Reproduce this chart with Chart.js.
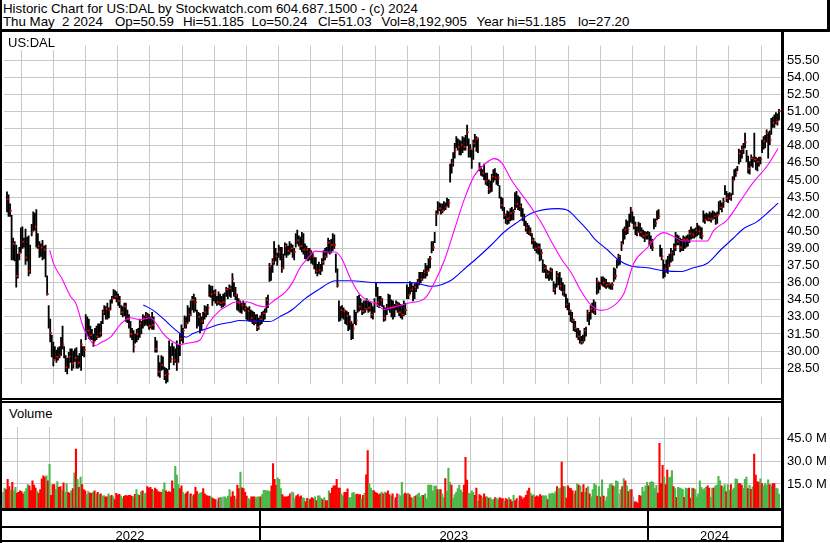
<!DOCTYPE html>
<html><head><meta charset="utf-8">
<script src="https://cdn.jsdelivr.net/npm/chart.js@4.4.1/dist/chart.umd.min.js"></script>
<style>
html,body{margin:0;padding:0;background:#fff;}
body{width:830px;height:543px;position:relative;overflow:hidden;font-family:"Liberation Sans",Arial,sans-serif;color:#000;}
.t{position:absolute;white-space:pre;font-size:13.3px;line-height:13.3px;}
.lbl{position:absolute;white-space:pre;font-size:13px;line-height:13px;background:#fff;}
.k{position:absolute;background:#000;}
canvas{position:absolute;left:0;}
</style>
</head><body>
<canvas id="pc" width="830" height="366" style="top:32px;width:830px;height:366px"></canvas>
<canvas id="vc" width="830" height="140" style="top:403px;width:830px;height:140px"></canvas>

<div class="t" style="left:3px;top:2px">Historic Chart for US:DAL by Stockwatch.com 604.687.1500 - (c) 2024</div>
<div class="t" style="left:3px;top:15.4px">Thu May  2 2024</div>
<div class="t" style="left:115px;top:15.4px">Op=50.59</div>
<div class="t" style="left:183px;top:15.4px">Hi=51.185</div>
<div class="t" style="left:251.5px;top:15.4px">Lo=50.24</div>
<div class="t" style="left:318px;top:15.4px">Cl=51.03</div>
<div class="t" style="left:381.5px;top:15.4px">Vol=8,192,905</div>
<div class="t" style="left:476.5px;top:15.4px">Year hi=51.185</div>
<div class="t" style="left:578px;top:15.4px">lo=27.20</div>

<div class="lbl" style="left:2px;top:32px;width:52px;height:18px;"><span style="position:absolute;left:6px;top:4px">US:DAL</span></div>
<div class="lbl" style="left:2px;top:403px;width:56px;height:24px;"><span style="position:absolute;left:7px;top:4px">Volume</span></div>

<div class="k" style="left:0;top:0;width:2px;height:543px"></div>
<div class="k" style="left:827px;top:0;width:3px;height:32px"></div>
<div class="k" style="left:0;top:29px;width:830px;height:3px"></div>
<div class="k" style="left:781px;top:32px;width:3px;height:510px"></div>
<div class="k" style="left:0;top:398px;width:784px;height:2px"></div>
<div class="k" style="left:0;top:401px;width:784px;height:2px"></div>
<div class="k" style="left:0;top:508px;width:784px;height:3px"></div>
<div class="k" style="left:0;top:526px;width:784px;height:2px"></div>
<div class="k" style="left:0;top:540px;width:784px;height:2px"></div>

<script>
// ---------------- DATA ----------------
const highs = [
43.95,43.7,42.9,41.9,39.9,39.6,39.3,38.5,39.1,40.8,
40.9,39.9,40.7,40.0,40.1,39.3,41.1,42.2,42.1,42.4,
40.3,39.6,39.4,39.7,39.2,39.3,36.6,34.0,32.8,31.4,
30.8,30.4,30.1,30.3,30.4,31.2,32.2,30.4,29.6,29.4,
29.9,30.2,30.2,30.0,30.2,30.3,29.6,29.8,31.0,30.4,
30.4,33.2,33.0,32.8,32.2,31.9,31.5,32.0,32.2,32.4,
32.4,32.6,33.6,34.0,33.9,34.2,33.8,34.5,34.8,35.4,
35.3,35.2,35.0,34.8,34.0,33.9,34.2,34.2,33.6,33.2,
32.6,32.0,31.8,31.5,31.9,32.0,32.8,32.6,33.2,33.1,
33.4,33.3,33.2,33.0,33.4,33.0,31.2,30.9,29.6,29.0,
29.6,29.5,28.6,28.5,28.4,30.9,30.4,30.7,30.4,30.2,
30.9,30.5,31.5,32.3,32.0,33.1,33.0,34.0,33.8,34.4,
34.8,35.0,34.7,33.6,33.4,33.3,33.0,33.4,34.0,33.9,
34.1,35.8,35.7,35.7,35.3,35.4,34.8,35.2,35.0,34.8,
35.0,35.1,35.6,35.5,35.8,35.7,36.8,36.0,35.6,35.0,
34.6,34.4,34.2,34.4,34.2,33.9,33.8,33.9,33.6,33.5,
33.4,33.2,33.2,32.9,33.1,33.4,33.5,33.7,34.7,34.9,
37.7,37.5,38.1,39.6,39.0,38.6,39.3,39.1,39.1,38.5,
39.5,39.4,39.2,39.6,39.4,39.3,39.0,40.3,40.6,40.1,
40.0,40.4,40.3,39.4,39.2,39.0,39.0,38.8,38.6,38.2,
38.2,37.6,37.8,37.6,38.1,38.8,39.0,39.1,39.9,39.7,
39.8,40.3,40.2,38.5,37.2,34.4,33.9,34.0,33.8,33.6,
33.5,33.4,33.1,32.6,32.4,33.6,33.4,34.8,34.9,34.6,
34.2,34.4,34.4,34.6,34.4,34.3,34.2,33.9,34.6,36.0,
35.6,34.8,34.8,34.6,34.0,33.8,34.1,35.0,34.9,34.5,
34.4,34.1,34.4,34.3,34.2,34.1,34.0,34.4,34.2,35.8,
35.6,36.1,36.0,35.7,35.9,36.0,36.3,36.9,36.9,36.9,
37.1,37.7,37.5,38.1,38.3,39.6,39.6,40.4,42.3,43.1,
43.0,42.9,42.9,43.1,43.0,43.4,43.3,46.4,46.8,47.4,
48.2,48.8,48.6,48.5,48.4,48.8,48.7,48.9,49.8,48.6,
48.1,47.6,48.5,49.0,48.8,48.7,46.5,46.2,45.9,46.4,
45.6,45.6,45.0,44.9,45.5,45.9,46.0,45.6,45.5,44.5,
43.5,43.4,42.6,42.0,42.3,42.2,42.5,42.6,42.4,43.9,
44.0,43.6,43.5,42.9,42.5,42.0,41.4,41.2,41.0,40.8,
40.3,39.9,39.6,39.5,39.4,39.4,38.9,38.0,37.6,37.5,
37.1,37.0,37.3,37.2,36.1,35.9,37.0,36.8,36.9,36.4,
36.0,35.8,35.0,34.6,34.2,33.6,33.4,32.8,32.6,32.0,
32.0,31.8,31.3,31.4,32.0,32.1,33.6,33.4,34.0,34.2,
34.5,34.3,36.4,36.1,36.0,36.5,36.5,36.4,36.3,36.0,
36.0,35.9,36.0,37.3,37.2,38.0,38.5,38.4,39.6,40.7,
40.9,41.5,41.4,42.0,42.6,42.2,41.8,41.3,40.9,41.3,
41.2,40.8,40.6,40.5,40.4,40.5,40.4,40.1,39.8,41.6,
41.6,42.3,42.4,39.3,39.0,38.0,37.6,38.0,38.3,38.5,
39.0,38.8,39.4,40.4,40.2,40.1,39.9,39.8,40.1,40.0,
40.1,40.2,40.6,40.9,40.7,40.7,40.8,41.2,41.0,40.9,
40.8,42.3,42.0,42.1,42.0,42.2,42.1,42.3,42.2,42.1,
42.2,43.1,43.2,43.0,43.4,44.5,44.0,43.8,43.9,43.8,
45.3,45.9,46.0,46.2,47.7,47.6,48.0,48.2,49.1,47.6,
47.1,46.6,47.2,47.0,49.1,47.0,46.9,47.0,47.0,48.5,
48.8,48.9,49.4,49.2,49.3,50.4,50.5,50.7,50.9,50.8,51.185];

const lows = [
42.2,41.8,41.8,38.0,38.0,37.9,35.6,36.4,38.0,38.6,
39.0,39.1,37.6,37.9,36.6,36.8,40.1,40.5,40.6,39.1,
39.0,38.2,38.3,38.0,38.1,36.5,34.9,32.0,30.8,29.5,
28.7,29.3,29.0,29.2,29.4,29.6,30.2,29.4,28.2,28.0,
28.5,29.0,28.3,28.5,29.1,28.5,28.5,28.6,28.3,29.6,
29.5,31.0,31.4,31.1,31.0,31.0,30.4,30.9,31.0,31.2,
31.2,31.3,32.4,33.2,32.8,32.8,32.9,33.6,34.2,34.6,
34.6,34.3,34.0,33.8,33.2,33.0,33.1,32.6,32.5,32.0,
31.2,31.0,29.9,30.7,30.8,31.0,31.2,31.5,32.0,32.2,
32.3,32.2,31.9,32.0,31.9,31.9,29.9,29.9,27.8,27.7,
28.3,28.4,27.5,27.2,27.3,28.4,29.0,29.6,28.8,29.0,
28.3,29.0,29.6,30.9,30.7,32.0,32.0,32.4,32.6,33.1,
33.6,33.4,33.5,32.0,32.2,31.6,31.8,32.4,32.8,33.0,
33.2,34.8,34.7,34.0,34.4,34.2,34.0,34.1,34.0,33.8,
33.9,34.0,34.8,34.6,34.8,34.7,35.2,34.8,34.5,33.6,
33.5,33.4,33.3,33.6,33.5,32.8,32.7,32.6,32.6,32.4,
32.3,32.4,31.8,31.9,32.3,32.4,32.6,32.8,33.4,33.8,
36.1,36.2,36.9,37.6,37.9,37.5,38.2,38.0,36.9,37.2,
38.4,38.2,38.4,38.5,38.7,38.2,38.0,39.1,39.4,39.2,
38.9,38.7,38.5,38.1,38.0,37.9,38.0,37.7,37.6,37.2,
36.8,36.6,36.8,36.7,37.0,37.6,38.0,38.2,38.6,38.5,
38.6,38.8,39.0,36.9,35.6,32.6,32.7,32.9,32.8,32.4,
32.3,31.8,31.9,31.0,31.1,32.4,32.3,33.4,33.5,33.6,
33.2,33.3,33.4,33.6,33.4,33.5,32.9,32.8,33.4,34.8,
33.9,33.8,34.0,33.9,32.6,32.7,33.2,33.6,33.4,33.0,
32.8,33.0,33.6,33.4,33.1,32.9,32.8,33.1,33.2,34.6,
34.6,35.0,35.2,34.4,34.6,35.2,35.5,35.8,36.0,36.2,
36.4,36.4,36.6,37.0,37.3,38.6,38.8,39.5,41.0,42.0,
42.3,42.0,42.1,42.3,42.4,42.7,42.6,44.8,45.6,46.2,
46.9,47.8,47.6,47.2,47.2,47.4,47.6,47.6,48.0,47.0,
47.0,46.0,46.8,47.9,47.5,47.4,45.8,45.4,45.3,45.0,
44.6,44.5,43.8,43.9,44.0,44.8,45.0,44.6,44.5,43.4,
42.5,42.3,41.6,41.2,41.1,41.2,41.4,41.5,41.5,42.4,
42.6,42.4,42.3,41.8,41.4,41.0,40.5,40.3,40.2,40.1,
39.4,39.0,38.8,38.6,38.5,37.9,38.0,36.9,36.9,36.4,
36.4,36.2,36.3,36.2,35.2,35.0,35.6,35.8,35.4,35.3,
34.9,34.8,33.8,33.6,33.2,32.6,32.5,31.8,31.7,31.2,
31.0,30.7,30.6,30.7,30.9,31.3,32.6,32.3,32.8,33.4,
33.3,33.2,35.0,35.1,35.4,35.8,35.7,35.6,35.5,35.6,
35.5,35.4,35.4,36.1,36.3,37.3,37.5,37.6,38.8,39.4,
39.8,40.2,40.3,40.9,41.3,41.2,40.7,40.2,40.1,40.4,
40.1,40.0,39.9,39.6,39.8,39.8,39.3,39.0,38.8,40.7,
40.9,41.5,41.6,38.3,38.0,36.4,36.5,36.9,36.8,37.4,
37.8,37.9,38.4,38.8,39.3,39.3,38.7,38.8,38.8,39.0,
39.1,39.2,39.5,39.8,39.9,39.9,40.0,40.1,40.2,39.9,
39.8,41.3,41.2,41.5,41.4,41.4,41.3,41.5,41.6,41.1,
41.2,42.0,42.4,42.2,42.6,43.7,43.1,43.0,43.3,43.2,
43.7,45.0,45.3,45.8,46.4,46.6,46.9,47.3,47.8,46.6,
45.6,45.5,46.2,46.1,46.6,45.9,45.8,46.2,46.4,47.4,
47.7,47.8,48.3,46.9,48.1,49.0,49.6,49.6,49.9,49.8,50.24];

const closes = [
43.3,42.1,42.3,38.4,39.4,38.3,36.6,37.8,38.6,40.5,
39.6,39.4,38.2,39.4,37.0,38.8,40.4,41.8,40.9,39.5,
39.2,38.5,39.1,38.4,38.9,36.8,35.0,32.5,31.6,30.0,
29.2,29.8,29.5,29.9,29.6,30.9,30.6,29.7,28.6,29.0,
29.5,29.4,28.9,29.6,29.4,30.0,29.0,29.4,30.6,29.8,
30.1,32.6,31.8,32.2,31.4,31.6,30.8,31.7,31.3,32.0,
31.6,32.3,33.4,33.5,33.7,33.2,33.6,34.2,34.6,35.0,
34.8,34.9,34.4,34.0,33.4,33.6,33.9,33.0,32.8,32.3,
31.5,31.7,30.4,31.2,31.5,31.8,32.4,31.9,32.9,32.5,
33.1,32.6,32.2,32.8,32.3,32.1,30.2,30.5,28.2,28.5,
28.8,29.1,27.9,27.6,28.0,30.5,29.3,30.0,29.2,29.8,
29.0,30.2,31.1,31.4,31.8,32.8,32.4,33.5,33.2,34.1,
34.5,33.8,34.3,32.4,33.0,31.9,32.6,33.2,33.4,33.6,
33.8,35.6,35.0,34.4,35.1,34.6,34.3,34.9,34.2,34.5,
34.3,34.8,35.4,34.9,35.5,35.1,36.3,35.2,34.9,33.9,
34.2,33.6,34.0,34.1,33.7,33.1,33.5,33.0,32.9,33.2,
32.6,32.8,32.1,32.5,32.8,32.7,33.3,33.6,34.5,34.2,
37.4,36.6,37.8,39.3,38.3,38.4,38.7,38.9,37.3,38.2,
39.2,38.6,38.8,39.4,39.0,38.5,38.7,40.0,39.7,39.8,
39.2,39.9,38.9,38.4,38.9,38.2,38.7,38.0,38.3,37.5,
37.0,37.2,37.1,37.3,37.8,38.5,38.3,38.9,39.5,38.8,
39.3,40.1,39.3,37.2,35.8,33.0,33.6,33.3,33.5,32.8,
33.1,32.2,32.6,31.4,32.0,33.3,32.7,34.5,33.9,34.3,
33.5,34.0,33.7,34.3,33.8,34.0,33.2,33.5,34.2,35.6,
34.3,34.4,34.5,34.1,32.9,33.4,33.8,34.6,33.8,33.4,
33.9,33.4,34.1,33.7,33.4,33.8,33.2,34.0,33.6,35.5,
34.9,35.8,35.4,34.8,35.6,35.7,36.0,36.6,36.3,36.7,
36.9,37.4,37.0,37.8,38.1,39.3,39.1,40.2,42.0,42.8,
42.5,42.6,42.3,42.9,42.6,43.2,43.0,46.0,46.5,47.1,
47.6,48.6,47.9,47.5,48.1,48.4,47.9,48.6,49.2,47.4,
47.7,46.4,48.2,48.4,48.6,47.7,46.1,45.8,45.6,45.2,
44.9,45.1,44.2,44.3,45.3,45.5,45.2,44.9,45.2,43.7,
42.8,42.6,41.9,41.4,41.6,41.9,42.1,41.8,42.2,43.6,
42.9,43.2,42.7,42.1,41.7,41.3,40.8,40.6,40.4,40.5,
39.7,39.3,39.0,38.9,39.1,38.2,38.6,37.2,37.3,36.7,
36.8,36.5,37.0,36.4,35.4,35.6,36.6,36.1,35.7,36.0,
35.2,35.0,34.1,33.9,33.5,32.9,32.7,32.1,32.0,31.5,
31.3,31.0,30.8,31.2,31.8,31.6,33.3,32.7,33.7,33.9,
33.6,34.1,36.1,35.4,35.8,36.2,36.0,36.1,35.8,35.7,
35.9,35.6,35.8,37.0,36.6,37.8,38.3,37.9,39.4,40.5,
40.6,41.2,40.7,41.7,42.3,41.6,41.0,40.5,40.4,41.0,
40.4,40.3,40.1,40.0,40.2,40.0,39.6,39.3,39.1,41.4,
41.2,42.1,41.8,38.6,38.3,36.8,37.2,37.7,37.5,38.2,
38.6,38.3,39.1,40.0,39.6,39.9,39.1,39.5,39.8,39.3,
39.8,39.5,40.3,40.5,40.2,40.4,40.6,40.9,40.5,40.7,
40.1,42.0,41.5,41.8,41.6,42.0,41.6,42.1,41.8,41.4,
41.9,42.8,42.6,42.9,43.1,44.2,43.4,43.6,43.5,43.6,
44.9,45.7,45.6,46.0,47.3,47.0,47.7,47.6,48.3,46.9,
46.0,46.3,46.9,46.5,46.8,46.4,46.6,46.5,46.8,48.2,
48.4,48.6,49.1,49.0,48.5,50.2,50.0,50.4,50.1,50.6,51.03];

// daily volume, millions of shares
const volumes = [
9.4,12.3,11.3,18.0,13.2,11.0,16.1,10.4,12.7,9.0,
9.4,10.4,10.0,8.4,10.0,12.0,14.6,13.8,10.6,17.1,
14.2,12.3,10.2,8.8,11.3,18.4,20.4,19.6,20.4,17.0,
28.0,7.5,14.6,14.6,11.5,16.5,12.7,13.2,11.0,15.7,
9.4,15.2,9.4,8.8,10.4,12.0,22.3,38.2,18.0,12.7,
19.6,14.6,11.3,10.4,8.1,10.0,9.0,8.8,9.4,10.4,
8.5,9.4,7.9,
8.4,6.9,7.2,6.5,6.5,8.4,7.0,7.5,6.5,4.6,
8.8,7.8,8.1,6.9,5.6,6.8,7.5,6.9,7.5,7.5,
6.8,6.5,8.1,11.3,8.0,7.5,10.0,10.4,8.4,9.0,
13.2,12.3,12.7,11.5,10.4,12.3,11.3,10.0,9.6,9.4,
11.3,15.7,10.5,9.4,10.0,9.4,17.1,12.0,26.7,20.9,
14.6,12.0,13.8,9.4,8.1,9.0,10.0,8.1,8.4,6.9,
8.0,12.7,10.0,8.4,9.0,9.4,11.9,8.4,7.5,7.0,
6.9,6.5,5.6,5.0,4.6,3.6,5.6,6.1,5.8,6.5,
6.5,5.6,7.0,11.3,6.5,10.0,7.0,5.0,14.2,11.9,
22.8,12.5,11.9,9.4,6.9,5.5,4.6,6.5,6.5,6.5,
6.0,6.5,6.5,6.5,8.0,10.8,10.8,10.4,10.4,10.0,
13.8,28.6,18.0,14.0,19.0,18.0,11.9,8.0,6.5,6.5,6.5,6.9,
8.4,9.6,9.2,5.2,7.1,7.9,6.5,7.1,6.0,5.5,3.3,5.5,4.6,5.0,6.0,5.2,6.5,4.0,7.1,7.1,5.5,4.6,
6.0,4.0,4.0,10.4,8.8,12.3,13.8,13.8,18.0,12.3,12.3,8.4,7.1,9.4,9.4,11.7,6.0,6.0,9.0,9.4,8.0,8.3,
7.9,7.9,5.2,7.5,8.8,21.1,37.2,15.2,12.3,10.8,10.4,9.4,8.8,7.9,8.4,9.6,8.4,9.6,9.0,10.4,8.0,7.0,
8.4,4.6,6.0,8.4,7.9,7.1,16.1,7.9,9.0,8.4,9.0,7.9,6.0,5.5,6.8,7.1,7.9,9.0,6.5,7.5,7.4,8.4,
5.2,14.2,14.2,14.2,10.4,13.6,13.6,11.3,11.3,11.3,8.4,6.0,18.6,10.2,25.5,16.1,14.2,5.5,8.0,9.4,12.0,
14.2,11.0,9.4,14.2,32.6,17.5,9.0,8.4,10.4,9.4,7.5,12.3,3.6,7.9,7.1,6.0,8.4,6.5,6.5,5.5,6.0,
4.6,4.6,6.0,5.6,4.6,6.0,5.2,5.2,3.6,5.2,4.6,6.0,4.6,3.3,7.5,4.0,5.2,3.6,7.1,6.5,5.0,
6.0,7.5,10.4,12.3,9.0,7.1,7.9,6.5,7.1,6.5,7.9,7.1,7.1,7.1,7.1,4.6,8.4,8.4,9.0,8.4,10.0,13.2,11.7,12.3,
29.6,13.2,13.2,5.6,13.8,12.3,11.9,10.4,8.4,10.4,
15.2,14.2,13.8,9.4,14.6,9.4,12.3,13.2,8.4,6.5,
11.3,15.2,14.2,6.9,13.2,6.5,17.7,6.9,3.6,6.5,
11.9,14.6,15.2,13.8,13.2,17.1,16.5,8.4,11.3,13.2,
18.6,17.1,13.8,10.0,11.3,11.3,6.5,3.1,3.1,2.3,
7.5,6.9,12.7,10.0,13.8,16.1,13.8,16.1,16.5,16.1,
12.0,14.0,9.0,42.0,15.2,27.3,19.6,14.6,24.2,19.0,
19.6,23.8,13.2,11.9,6.1,12.7,12.3,11.9,11.3,6.1,
12.3,11.9,12.3,5.6,12.3,11.9,11.3,6.5,8.4,17.1,
12.7,11.3,11.9,12.7,13.8,12.3,6.1,12.3,12.3,13.8,
14.2,20.0,17.1,13.8,12.7,14.6,10.0,14.6,10.8,14.6,
11.3,12.3,18.4,18.0,15.2,15.2,14.2,12.3,18.0,19.6,
12.0,14.0,11.5,13.0,34.9,20.9,16.5,16.1,18.4,15.2,
13.8,15.2,14.2,17.7,14.6,13.8,15.2,15.2,12.3,12.0,8.192905];

// volume bar direction: g = up day (green), r = down day (red), n = unchanged (grey)
const volDir = (
 "ngrrrgrggr"+"rrrrgggrrr"+"rrgrrrrrgr"+"grrrggrrgr"+"ggrrgrgrgr"+"grrrggrrgr"+"grg"+
 "rggrrggrgr"+"rrrggrrrrr"+"rgrggrgrgg"+"rrrrgrrrrr"+"ggrrrrrrgg"+"grrggrrnrg"+
 "rrrgggrrrr"+"rgrrrnrggn"+"ggggrrrgrr"+"grrrrggrrr"+"gggrgggggg"+"rrrrgggrrrrr"+
 "rnggrrrrggrrgrrrgrgggr"+"grrgrrrrrrrggrrrgggggr"+"rrgrgrrgggrrrrrgrgrrrg"+
 "rnrrngggrrgrrggrggggrg"+"gggggggrgrggrgggrgggg"+"gggrrrggggrrgrrgrrgrg"+
 "ggrggrrrgrrgrrgrrnrrr"+"rrrrgrgrrrrrgggrgggggrgg"+
 "rrgrrrrrgr"+"grgrrgrgrg"+"gggrgrgrgg"+"gggrgggngr"+"grgrgrnrrr"+"rrggggrggg"+
 "ggrrrrgrrg"+"ggrgrggggr"+"ggrrgrgggg"+"ggggrrggrg"+"gggrggrggr"+"ggggrrrggg"+
 "rgrgrrrrgr"+"ggggrgrrggg").split('');

// moving averages: [bar index, price]
const maFast = [[27.7,38.84],[30.3,37.62],[35.4,36.40],[41.2,34.78],[44.5,34.22],[49.6,32.03],[52.8,31.22],[57.3,30.49],[60.6,30.73],[67.0,31.22],[73.5,32.35],[79.9,32.92],[86.3,32.76],[92.8,32.92],[96.6,32.43],[101.2,31.54],[105.7,30.97],[112.1,30.57],[118.6,30.73],[125.0,30.97],[130.2,32.35],[137.9,33.57],[141.8,33.89],[148.2,34.30],[155.9,34.30],[161.1,34.05],[166.9,33.89],[173.3,34.46],[180.4,35.19],[184.9,36.00],[189.4,37.22],[194.6,38.11],[199.7,38.76],[206.2,38.68],[212.6,38.68],[217.1,38.03],[222.3,36.40],[228.1,35.03],[233.2,34.46],[238.4,34.22],[244.2,33.65],[249.4,33.81],[260.3,34.22],[270.6,34.62],[277.1,36.08],[283.5,38.03],[289.9,40.70],[296.4,43.38],[302.8,45.40],[309.3,46.38],[315.7,46.87],[320.2,46.54],[326.7,45.00],[333.1,43.78],[339.6,42.57],[346.0,41.27],[352.4,39.65],[358.9,38.11],[365.3,36.89],[371.8,35.27],[378.2,34.05],[384.7,33.57],[391.1,33.81],[399.5,35.03],[405.9,37.70],[414.9,39.08],[421.4,40.13],[425.3,40.38],[431.7,40.05],[438.1,39.65],[447.2,39.65],[453.6,39.65],[457.5,40.54],[466.5,41.51],[474.9,43.14],[483.2,44.76],[492.3,46.22],[499.4,47.76]];
const maSlow = [[88.3,34.05],[94.7,33.57],[101.2,32.84],[107.6,32.03],[112.1,31.54],[116.0,31.22],[120.5,31.54],[128.9,31.95],[137.9,32.35],[144.3,32.51],[150.8,32.68],[170.1,32.59],[176.5,33.00],[184.9,33.65],[193.3,34.62],[202.3,35.43],[208.8,36.00],[212.6,36.16],[221.6,36.16],[241.0,36.00],[255.8,36.00],[262.2,36.00],[275.1,35.68],[288.0,36.24],[296.4,37.22],[305.4,38.27],[313.8,39.32],[322.2,40.46],[331.2,41.35],[339.6,42.08],[347.9,42.40],[357.0,42.49],[363.4,42.32],[369.8,41.51],[376.9,40.46],[380.2,39.89],[389.2,38.84],[395.6,38.03],[404.0,37.46],[415.0,37.30],[425.3,37.05],[436.2,36.97],[444.6,37.30],[453.6,37.70],[462.0,38.84],[470.4,39.89],[476.8,40.70],[485.8,41.35],[494.2,42.32],[499.4,42.97]];

const priceTicks = [28.5,30,31.5,33,34.5,36,37.5,39,40.5,42,43.5,45,46.5,48,49.5,51,52.5,54,55.5];
const volTicks = [15,30,45];
const years = ['2022','2023','2024'];
const yearStartBar = [0,166,416];
const barsPerYear = 250;

// ---------------- CHARTS ----------------
const FONT = '"Liberation Sans", Arial, sans-serif';
Chart.defaults.font.family = FONT;
Chart.defaults.color = '#000';
const GRID = '#c8c8c8';
const X_MIN = -1.933, X_MAX = 501.29;
const monthStep = barsPerYear / 12;
const monthGrid = [];
for (let v = yearStartBar[1] - 0.5; v >= X_MIN; v -= monthStep) monthGrid.unshift(v);
for (let v = yearStartBar[1] - 0.5 + monthStep; v <= X_MAX; v += monthStep) monthGrid.push(v);

function xAxis(h) {
  return {
    type: 'linear', min: X_MIN, max: X_MAX, offset: false,
    afterBuildTicks: s => { s.ticks = monthGrid.map(v => ({ value: v })); },
    afterFit: s => { s.height = h; },
    grid: { color: GRID, lineWidth: 1, drawTicks: false },
    border: { display: false },
    ticks: { display: false, autoSkip: false, maxRotation: 0 }
  };
}
const common = {
  responsive: false, animation: false, devicePixelRatio: 1, events: [],
  layout: { padding: 0 },
  plugins: { legend: { display: false }, tooltip: { enabled: false } }
};

new Chart(document.getElementById('pc'), {
  type: 'bar',
  data: {
    datasets: [
      { type: 'line', data: maFast.map(p => ({ x: p[0], y: p[1] })), borderColor: '#ff00ff', borderWidth: 1.1,
        pointRadius: 0, cubicInterpolationMode: 'monotone', order: 0 },
      { type: 'line', data: maSlow.map(p => ({ x: p[0], y: p[1] })), borderColor: '#0000ff', borderWidth: 1.1,
        pointRadius: 0, cubicInterpolationMode: 'monotone', order: 0 },
      { type: 'line', showLine: false, data: closes.map((c, i) => ({ x: i + 0.5, y: c })),
        pointStyle: 'rect', pointRadius: ctx => (ctx.dataIndex % 2 === 0 ? 1.25 : 0),
        pointBackgroundColor: '#ff0000', pointBorderWidth: 0, order: 1 },
      { type: 'bar', data: highs.map((h, i) => ({ x: i, y: [lows[i], h] })), backgroundColor: '#000',
        barThickness: 1.15, borderWidth: 0, order: 2 }
    ]
  },
  options: Object.assign({}, common, {
    scales: {
      x: xAxis(0),
      y: {
        position: 'right', min: 27.10, max: 56.756,
        afterBuildTicks: s => { s.ticks = priceTicks.map(v => ({ value: v })); },
        afterFit: s => { s.width = 49; },
        grid: { color: GRID, lineWidth: 1, drawTicks: false },
        border: { display: false },
        ticks: { autoSkip: false, padding: 6, color: '#000', font: { size: 13, family: FONT },
          callback: v => Number(v).toFixed(2) }
      }
    }
  })
});

const volColors = volDir.map(d => d === 'r' ? '#ff0000' : d === 'g' ? '#4cb84c' : '#a4a4a4');
const VOL_MIN = -0.98, VOL_MAX = 59.6;

const yearAxisPlugin = {
  id: 'yearAxis',
  afterDraw(chart) {
    const { ctx, chartArea } = chart;
    const xs = chart.scales.x;
    const top = chartArea.bottom, bottom = chart.height;
    const bounds = yearStartBar.slice(1).map(b => xs.getPixelForValue(b - 0.5));
    ctx.save();
    ctx.fillStyle = '#000';
    bounds.forEach(px => ctx.fillRect(Math.round(px) - 1, top, 2, bottom - top - 1));
    const edges = [chartArea.left].concat(bounds, [chartArea.right]);
    ctx.font = '13px ' + FONT;
    ctx.textAlign = 'center';
    ctx.textBaseline = 'alphabetic';
    years.forEach((y, i) => ctx.fillText(y, (edges[i] + edges[i + 1]) / 2, bottom - 3));
    ctx.restore();
  }
};

new Chart(document.getElementById('vc'), {
  type: 'bar',
  data: {
    datasets: [{
      data: volumes.map((v, i) => ({ x: i, y: v })),
      backgroundColor: volColors, barThickness: 1.45, borderWidth: 0, base: VOL_MIN
    }]
  },
  options: Object.assign({}, common, {
    scales: {
      x: xAxis(35),
      y: {
        position: 'right', min: VOL_MIN, max: VOL_MAX,
        afterBuildTicks: s => { s.ticks = volTicks.map(v => ({ value: v })); },
        afterFit: s => { s.width = 49; },
        grid: { color: GRID, lineWidth: 1, drawTicks: false },
        border: { display: false },
        ticks: { autoSkip: false, padding: 6, color: '#000', font: { size: 13, family: FONT },
          callback: v => Number(v).toFixed(1) + ' M' }
      }
    }
  }),
  plugins: [yearAxisPlugin]
});
</script>
</body></html>
